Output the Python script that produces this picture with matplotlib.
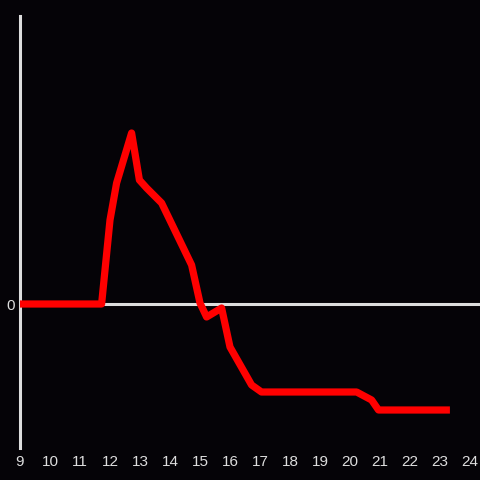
import matplotlib
matplotlib.use("Agg")
import matplotlib.pyplot as plt

# hours of day and value (arbitrary units, no scale shown except 0)
hours = [9, 11.72, 12.0, 12.22, 12.72, 12.98, 13.22, 13.72, 14.72, 15.0,
         15.22, 15.72, 16.0, 16.72, 17.05, 20.22, 20.72, 20.95, 23.33]
values = [0, 0, 8.4, 12.1, 17.1, 12.4, 11.6, 10.1, 3.9, 0.1,
          -1.3, -0.4, -4.3, -8.1, -8.8, -8.8, -9.6, -10.6, -10.6]
xticks = list(range(9, 25))

plt.rcParams["font.family"] = ["Liberation Sans", "DejaVu Sans"]

bg = "#050307"
fg = "#dddddd"

fig = plt.figure(figsize=(4.8, 4.8), dpi=100, facecolor=bg)
ax = fig.add_axes([20 / 480, 32 / 480, 460 / 480, 432 / 480])
ax.set_facecolor(bg)

ax.plot(hours, values, color="#ff0000", linewidth=5.2, solid_joinstyle="round",
        solid_capstyle="butt", zorder=3)
ax.axhline(0, color=fg, linewidth=2.2, zorder=2)

ax.set_xlim(9, 24.333)
ax.set_ylim(-14.4, 28.8)

for side in ["top", "right", "bottom"]:
    ax.spines[side].set_visible(False)
ax.spines["left"].set_color(fg)
ax.spines["left"].set_linewidth(2.2)

ax.set_xticks(xticks)
ax.set_xticklabels([str(t) for t in xticks])
ax.set_yticks([0])
ax.set_yticklabels(["0"])
ax.tick_params(axis="both", length=0, colors=fg, labelsize=11)
ax.tick_params(axis="x", pad=5)
ax.tick_params(axis="y", pad=4)

fig.savefig("out.png", dpi=100, facecolor=bg)
